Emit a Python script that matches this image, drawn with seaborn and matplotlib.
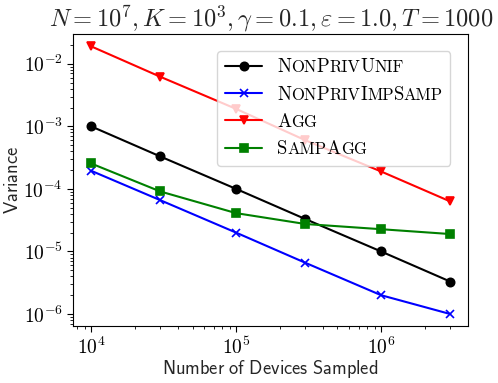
import numpy as np
import pandas as pd
import matplotlib
matplotlib.use("Agg")
import matplotlib.pyplot as plt
import seaborn as sns
from matplotlib.offsetbox import HPacker, TextArea
from matplotlib.ticker import FuncFormatter

# Values
devices = [1e4, 3e4, 1e5, 3e5, 1e6, 3e6]
nonpriv_unif = [1.0e-3, 3.3e-4, 1.0e-4, 3.3e-5, 1.0e-5, 3.3e-6]
nonpriv_impsamp = [1.95e-4, 6.6e-5, 2.0e-5, 6.6e-6, 2.0e-6, 1.0e-6]
agg = [1.9e-2, 6.2e-3, 1.9e-3, 6.0e-4, 1.9e-4, 6.3e-5]
samp_agg = [2.55e-4, 9.1e-5, 4.1e-5, 2.75e-5, 2.27e-5, 1.9e-5]

# legend label pieces: (text, is_capital) to mimic \textsc
label_parts = [
    [("N", 1), ("ON", 0), ("P", 1), ("RIV", 0), ("U", 1), ("NIF", 0)],
    [("N", 1), ("ON", 0), ("P", 1), ("RIV", 0), ("I", 1), ("MP", 0), ("S", 1), ("AMP", 0)],
    [("A", 1), ("GG", 0)],
    [("S", 1), ("AMP", 0), ("A", 1), ("GG", 0)],
]
labels = ["".join(p for p, _ in parts) for parts in label_parts]
series = [nonpriv_unif, nonpriv_impsamp, agg, samp_agg]
colors = ["black", "blue", "red", "green"]
markers = ["o", "x", "v", "s"]

sns.set_style("ticks")
plt.rcParams["mathtext.fontset"] = "cm"
plt.rcParams["axes.edgecolor"] = "black"
plt.rcParams["xtick.color"] = "black"
plt.rcParams["ytick.color"] = "black"

fig = plt.figure(figsize=(4.98, 3.83), dpi=100)
ax = fig.add_axes([0.147, 0.149, 0.793, 0.762])
ax.set_xscale("log")
ax.set_yscale("log")

for vals, c, m, lbl in zip(series, colors, markers, labels):
    sns.lineplot(x=devices, y=vals, color=c, marker=m, markersize=6,
                 markeredgecolor=c, markeredgewidth=1.2, linewidth=1.5,
                 label=lbl, ax=ax)

ax.set_xlim(10**3.876, 10**6.6)
ax.set_ylim(10**-6.19, 10**-1.525)
decade_fmt = FuncFormatter(lambda v, pos: r"$10^{%d}$" % round(np.log10(v)))
ax.xaxis.set_major_formatter(decade_fmt)
ax.yaxis.set_major_formatter(decade_fmt)
ax.tick_params(which="both", direction="out", labelsize=14)
ax.tick_params(which="major", length=4, width=0.8)
ax.tick_params(which="minor", length=2, width=0.6)
ax.tick_params(axis="x", which="minor", bottom=True)
ax.tick_params(axis="y", which="minor", left=True)

ax.set_xlabel(r"$\mathsf{Number\ of\ Devices\ Sampled}$", fontsize=13.3, labelpad=0)
ax.set_ylabel(r"$\mathsf{Variance}$", fontsize=13.3, labelpad=1)
ax.set_title(r"$N=10^7, K=10^3, \gamma=0.1, \varepsilon=1.0, T=1000$",
             fontsize=17.6, pad=4)

big, small = 13.5, 12.0
leg = ax.legend(loc="upper right", bbox_to_anchor=(0.955, 0.942),
                borderaxespad=0, fontsize=big, handlelength=2.0)
# swap each legend text for a small-caps imitation
column = leg._legend_handle_box.get_children()[0]
for item, parts in zip(column.get_children(), label_parts):
    boxes = [TextArea(p, textprops=dict(family="cmr10", color="black",
                                        fontsize=big if cap else small))
             for p, cap in parts]
    hp = HPacker(children=boxes, pad=0, sep=0, align="baseline")
    hp.set_figure(fig)
    item._children[1] = hp

fig.savefig("out.png", dpi=100)
